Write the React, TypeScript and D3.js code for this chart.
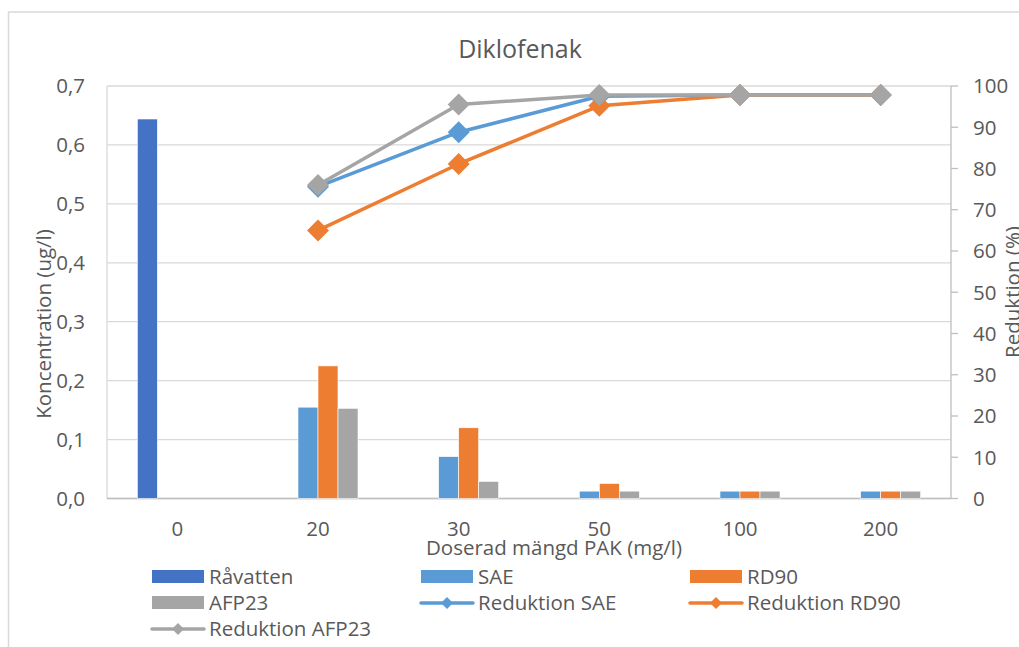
import React from "react";
import * as d3 from "d3";

// Dose categories (mg/l PAK)
const categories = ["0", "20", "30", "50", "100", "200"];

// Concentrations (ug/l) per carbon type; null = not measured
const ravatten: (number | null)[] = [0.644, null, null, null, null, null];
const sae: (number | null)[] = [null, 0.155, 0.071, 0.0125, 0.0125, 0.0125];
const rd90: (number | null)[] = [null, 0.225, 0.12, 0.0255, 0.0125, 0.0125];
const afp23: (number | null)[] = [null, 0.153, 0.029, 0.0125, 0.0125, 0.0125];

// Reduction (%) per carbon type
const redSae: (number | null)[] = [null, 75.6, 88.8, 97.5, 97.8, 97.8];
const redRd90: (number | null)[] = [null, 65.0, 81.1, 95.2, 97.8, 97.8];
const redAfp23: (number | null)[] = [null, 76.0, 95.5, 97.8, 97.8, 97.8];

const leftTicks = [0, 0.1, 0.2, 0.3, 0.4, 0.5, 0.6, 0.7];
const rightTicks = [0, 10, 20, 30, 40, 50, 60, 70, 80, 90, 100];

const C_RAV = "#4472C4";
const C_SAE = "#5B9BD5";
const C_RD = "#ED7D31";
const C_AFP = "#A5A5A5";
const GRID = "#D9D9D9";
const TEXT = "#595959";
const FONT = "'Open Sans', 'Noto Sans', sans-serif";
const FS = 20.5;

const barSeries = [
  { name: "Råvatten", values: ravatten, color: C_RAV },
  { name: "SAE", values: sae, color: C_SAE },
  { name: "RD90", values: rd90, color: C_RD },
  { name: "AFP23", values: afp23, color: C_AFP },
];
const lineSeries = [
  { name: "Reduktion SAE", values: redSae, color: C_SAE },
  { name: "Reduktion RD90", values: redRd90, color: C_RD },
  { name: "Reduktion AFP23", values: redAfp23, color: C_AFP },
];

const W = 1019;
const H = 647;
const plot = { left: 107, right: 951, top: 86, bottom: 498.5 };

export default function App() {
  const x = d3
    .scaleBand<string>()
    .domain(categories)
    .range([plot.left, plot.right]);
  const yL = d3.scaleLinear().domain([0, 0.7]).range([plot.bottom, plot.top]);
  const yR = d3.scaleLinear().domain([0, 100]).range([plot.bottom, plot.top]);

  const barW = 20;
  const groupW = barW * barSeries.length;

  const diamond = (cx: number, cy: number, r: number) =>
    `M${cx},${cy - r}L${cx + r},${cy}L${cx},${cy + r}L${cx - r},${cy}Z`;

  const line = d3
    .line<[string, number | null]>()
    .defined((d) => d[1] != null)
    .x((d) => (x(d[0]) as number) + x.bandwidth() / 2)
    .y((d) => yR(d[1] as number));

  const legendCols = [152, 421, 690];
  const legendRows = [577, 603, 629];
  const legendItems = [
    ...barSeries.map((s) => ({ ...s, kind: "bar" })),
    ...lineSeries.map((s) => ({ ...s, kind: "line" })),
  ];

  return (
    <svg
      width={W}
      height={H}
      style={{ position: "absolute", left: 0, top: 0, background: "#fff" }}
      fontFamily={FONT}
    >
      <rect x={0} y={0} width={W} height={H} fill="#fff" />
      {/* chart frame */}
      <rect x={8.5} y={12} width={W + 20} height={H + 20} fill="none" stroke={GRID} strokeWidth={1.5} />

      <text x={520} y={58} textAnchor="middle" fontSize={25} fill={TEXT}>
        Diklofenak
      </text>

      {/* gridlines */}
      {leftTicks.map((t) => (
        <line key={t} x1={plot.left} x2={plot.right} y1={yL(t)} y2={yL(t)} stroke={GRID} strokeWidth={1.3} />
      ))}
      <line x1={plot.left} x2={plot.left} y1={plot.top} y2={plot.bottom} stroke={GRID} strokeWidth={1.3} />
      <line x1={plot.left} x2={plot.right} y1={plot.bottom} y2={plot.bottom} stroke="#BFBFBF" strokeWidth={1.3} />

      {/* right axis */}
      <line x1={plot.right} x2={plot.right} y1={plot.top} y2={plot.bottom} stroke="#BFBFBF" strokeWidth={1.3} />
      {rightTicks.map((t) => (
        <g key={t}>
          <line x1={plot.right} x2={plot.right + 7} y1={yR(t)} y2={yR(t)} stroke="#BFBFBF" strokeWidth={1.3} />
          <text x={973} y={yR(t)} dy="0.36em" fontSize={FS} fill={TEXT}>
            {t}
          </text>
        </g>
      ))}

      {/* left axis labels */}
      {leftTicks.map((t) => (
        <text key={t} x={85} y={yL(t)} dy="0.36em" textAnchor="end" fontSize={FS} fill={TEXT}>
          {d3.format(".1f")(t).replace(".", ",")}
        </text>
      ))}

      {/* category labels */}
      {categories.map((c) => (
        <text
          key={c}
          x={(x(c) as number) + x.bandwidth() / 2}
          y={529}
          dy="0.36em"
          textAnchor="middle"
          fontSize={FS}
          fill={TEXT}
        >
          {c}
        </text>
      ))}

      {/* axis titles */}
      <text x={554} y={548} dy="0.36em" textAnchor="middle" fontSize={FS} fill={TEXT}>
        Doserad mängd PAK (mg/l)
      </text>
      <text
        transform={`translate(44,324) rotate(-90)`}
        dy="0.36em"
        textAnchor="middle"
        fontSize={FS}
        fill={TEXT}
      >
        Koncentration (ug/l)
      </text>
      <text
        transform={`translate(1013,292) rotate(-90)`}
        dy="0.36em"
        textAnchor="middle"
        fontSize={FS}
        fill={TEXT}
      >
        Reduktion (%)
      </text>

      {/* bars */}
      {barSeries.map((s, si) =>
        s.values.map((v, i) => {
          if (v == null) return null;
          const cx = (x(categories[i]) as number) + x.bandwidth() / 2;
          const bx = cx - groupW / 2 + si * barW;
          return (
            <rect
              key={`${s.name}-${i}`}
              x={bx}
              y={yL(v)}
              width={barW}
              height={plot.bottom - yL(v)}
              fill={s.color}
              stroke="#fff"
              strokeWidth={0.6}
            />
          );
        })
      )}

      {/* reduction lines */}
      {lineSeries.map((s) => {
        const pts = categories.map((c, i) => [c, s.values[i]] as [string, number | null]);
        return (
          <g key={s.name}>
            <path d={line(pts) || ""} fill="none" stroke={s.color} strokeWidth={3.5} strokeLinejoin="round" />
            {pts
              .filter((p) => p[1] != null)
              .map((p) => (
                <path
                  key={p[0]}
                  d={diamond((x(p[0]) as number) + x.bandwidth() / 2, yR(p[1] as number), 11)}
                  fill={s.color}
                />
              ))}
          </g>
        );
      })}

      {/* legend */}
      {legendItems.map((it, k) => {
        const cx = legendCols[k % 3];
        const cy = legendRows[Math.floor(k / 3)];
        return (
          <g key={it.name}>
            {it.kind === "bar" ? (
              <rect x={cx} y={cy - 7} width={52} height={13} fill={it.color} />
            ) : (
              <g>
                <line x1={cx} x2={cx + 52} y1={cy} y2={cy} stroke={it.color} strokeWidth={3.5} strokeLinecap="round" />
                <path d={diamond(cx + 26, cy, 6)} fill={it.color} />
              </g>
            )}
            <text x={cx + 57} y={cy} dy="0.36em" fontSize={FS} fill={TEXT}>
              {it.name}
            </text>
          </g>
        );
      })}
    </svg>
  );
}
